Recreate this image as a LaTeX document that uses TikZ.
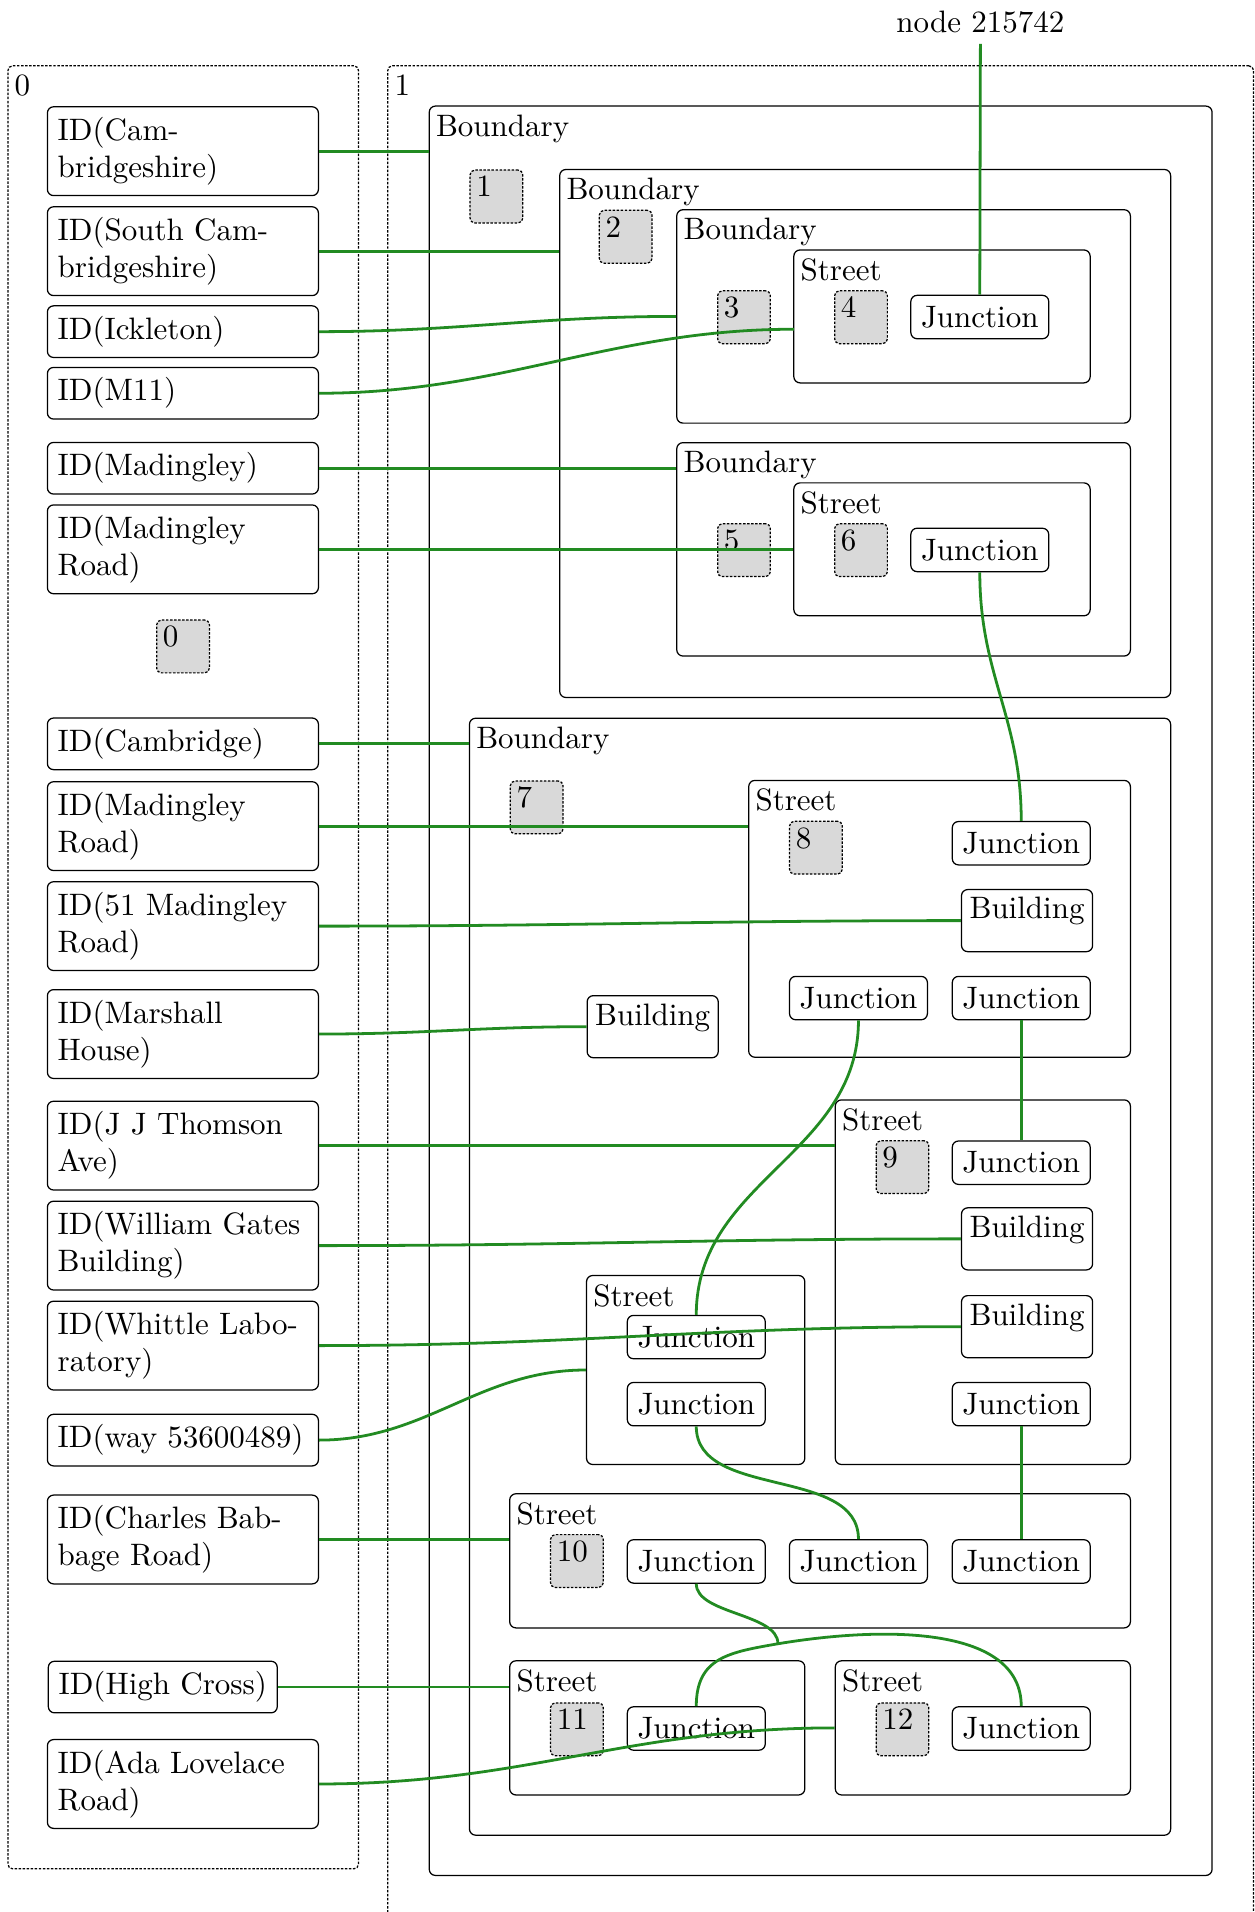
\documentclass[tikz,border=0pt]{standalone}
\usetikzlibrary{fit}
\definecolor{edgegreen}{RGB}{34,139,34}
\tikzset{
  fdash/.style={dash pattern=on 0.8pt off 0.5pt},
  frame/.style={draw, fdash, rounded corners=1.5pt, inner sep=0pt},
  cont/.style={draw, rounded corners=2pt, inner sep=0pt},
  lbl/.style={inner xsep=2.2pt, inner ysep=2.8pt, anchor=north west},
  idbox/.style={draw, rounded corners=2pt, inner sep=3.33pt, text width=80.8pt, align=left},
  idnat/.style={draw, rounded corners=2pt, inner sep=3.33pt},
  junc/.style={draw, rounded corners=2pt, minimum width=44.5pt, minimum height=14pt, inner sep=2pt},
  bldg/.style={draw, rounded corners=2pt, anchor=north west, inner xsep=2.6pt, inner ysep=2.55pt, text height=6.94pt, text depth=8pt, minimum width=41.7pt},
  numbox/.style={draw, fdash, fill=gray!30, rounded corners=1.5pt, anchor=north west, inner xsep=2pt, inner ysep=2.2pt, text width=13pt, align=left, text height=6.44pt, text depth=6.2pt},
  link/.style={draw=edgegreen, line width=0.9pt}
}
\begin{document}
\begin{tikzpicture}[x=0.3935pt,y=-0.3935pt]
\useasboundingbox (0,0) rectangle (1029,1568);
\begin{scope}
\clip (0,0) rectangle (1029,1568);
% frames
\node[frame, fit={(6.5,54)(294,1532.6)}] (f0) {};
\node[lbl] (f0l) at (f0.north west) {0};
\node[frame, fit={(318,54)(1028,1600)}] (f1) {};
\node[lbl] (f1l) at (f1.north west) {1};
\end{scope}

% containers
\node[cont, fit={(352,87)(994,1538)}] (A) {};
\node[lbl] (Al) at (A.north west) {Boundary};
\node[cont, fit={(459,139)(960,572)}] (B) {};
\node[lbl] (Bl) at (B.north west) {Boundary};
\node[cont, fit={(555,172)(927,347)}] (C) {};
\node[lbl] (Cl) at (C.north west) {Boundary};
\node[cont, fit={(651,205)(894,314)}] (D) {};
\node[lbl] (Dl) at (D.north west) {Street};
\node[cont, fit={(555,363)(927,538)}] (E) {};
\node[lbl] (El) at (E.north west) {Boundary};
\node[cont, fit={(651,396)(894,505)}] (F) {};
\node[lbl] (Fl) at (F.north west) {Street};
\node[cont, fit={(385,589)(960,1505)}] (G) {};
\node[lbl] (Gl) at (G.north west) {Boundary};
\node[cont, fit={(614,640)(927,867)}] (H) {};
\node[lbl] (Hl) at (H.north west) {Street};
\node[cont, fit={(685,902)(927,1201)}] (I) {};
\node[lbl] (Il) at (I.north west) {Street};
\node[cont, fit={(481,1046)(660,1201)}] (K) {};
\node[lbl] (Kl) at (K.north west) {Street};
\node[cont, fit={(418,1225)(927,1335)}] (L) {};
\node[lbl] (Ll) at (L.north west) {Street};
\node[cont, fit={(418,1362)(660,1472)}] (M) {};
\node[lbl] (Ml) at (M.north west) {Street};
\node[cont, fit={(685,1362)(927,1472)}] (N) {};
\node[lbl] (Nl) at (N.north west) {Street};

% numbered boxes
\node[numbox] (n0) at (128,508) {0};
\node[numbox] (n1) at (385,139) {1};
\node[numbox] (n2) at (491,172) {2};
\node[numbox] (n3) at (588,238) {3};
\node[numbox] (n4) at (684,238) {4};
\node[numbox] (n5) at (588,429) {5};
\node[numbox] (n6) at (684,429) {6};
\node[numbox] (n7) at (418,640) {7};
\node[numbox] (n8) at (647,673) {8};
\node[numbox] (n9) at (718,935) {9};
\node[numbox] (n10) at (451,1258) {10};
\node[numbox] (n11) at (451,1396) {11};
\node[numbox] (n12) at (718,1396) {12};

% junctions
\node[junc] (J1) at (803.5,260) {Junction};
\node[junc] (J2) at (803.5,451) {Junction};
\node[junc] (J3) at (837.5,691.5) {Junction};
\node[junc] (J4) at (704,818.5) {Junction};
\node[junc] (J5) at (837.5,818.5) {Junction};
\node[junc] (J6) at (837.5,953.5) {Junction};
\node[junc] (J7) at (837.5,1151.5) {Junction};
\node[junc] (J8) at (571,1096.5) {Junction};
\node[junc] (J9) at (571,1151.5) {Junction};
\node[junc] (J10) at (571,1280.5) {Junction};
\node[junc] (J11) at (704,1280.5) {Junction};
\node[junc] (J12) at (837.5,1280.5) {Junction};
\node[junc] (J13) at (571,1417.5) {Junction};
\node[junc] (J14) at (837.5,1417.5) {Junction};

% buildings
\node[bldg] (B1) at (788,729) {Building};
\node[bldg] (B2) at (481,816) {Building};
\node[bldg] (B3) at (788,990) {Building};
\node[bldg] (B4) at (788,1062) {Building};

% ID boxes
\node[idbox] (id1) at (150,124) {ID(Cam-\\bridgeshire)};
\node[idbox] (id2) at (150,206) {ID(South Cam-\\bridgeshire)};
\node[idbox] (id3) at (150,272) {ID(Ickleton)};
\node[idbox] (id4) at (150,322.5) {ID(M11)};
\node[idbox] (id5) at (150,384) {ID(Madingley)};
\node[idbox] (id6) at (150,450.5) {ID(Madingley\\Road)};
\node[idbox] (id7) at (150,610) {ID(Cambridge)};
\node[idbox] (id8) at (150,677.5) {ID(Madingley\\Road)};
\node[idbox] (id9) at (150,759.5) {ID(51 Madingley\\Road)};
\node[idbox] (id10) at (150,848) {ID(Marshall\\House)};
\node[idbox] (id11) at (150,939.5) {ID(J J Thomson\\Ave)};
\node[idbox] (id12) at (150,1021.5) {ID(William Gates\\Building)};
\node[idbox] (id13) at (150,1103.5) {ID(Whittle Labo-\\ratory)};
\node[idbox] (id14) at (150,1181) {ID(way 53600489)};
\node[idbox] (id15) at (150,1262.5) {ID(Charles Bab-\\bage Road)};
\node[idnat] (id16) at (133.5,1383.5) {ID(High Cross)};
\node[idbox] (id17) at (150,1463) {ID(Ada Lovelace\\Road)};

% title
\node (title) at (804,18) {node 215742};

% named free ends
\coordinate (cD) at (651,270);
\coordinate (X) at (638,1348);

% edges
\path[link] (title.south) -- (J1.north);
\path[link] (id1.east) -- (A.west |- id1.east);
\path[link] (id2.east) -- (B.west |- id2.east);
\path[link] (id3.east) .. controls +(115,0) and +(-115,0) .. (C.west);
\path[link] (id4.east) .. controls +(150,0) and +(-150,0) .. (cD);
\path[link] (id5.east) -- (E.west |- id5.east);
\path[link] (id6.east) -- (F.west |- id6.east);
\path[link] (J2.south) .. controls +(0,85) and +(0,-85) .. (J3.north);
\path[link] (id7.east) -- (G.west |- id7.east);
\path[link] (id8.east) -- (H.west |- id8.east);
\path[link] (id9.east) .. controls +(210,0) and +(-210,0) .. (B1.west);
\path[link] (id10.east) .. controls +(88,0) and +(-88,0) .. (B2.west);
\path[link] (J4.south) .. controls +(0,110) and +(0,-110) .. (J8.north);
\path[link] (J5.south) -- (J6.north);
\path[link] (id11.east) -- (I.west |- id11.east);
\path[link] (id12.east) .. controls +(210,0) and +(-210,0) .. (B3.west);
\path[link] (id13.east) .. controls +(210,0) and +(-210,0) .. (B4.west);
\path[link] (id14.east) .. controls +(88,0) and +(-88,0) .. (K.west);
\path[link] (J9.south) .. controls +(0,60) and +(0,-60) .. (J11.north);
\path[link] (J7.south) -- (J12.north);
\path[link] (id15.east) -- (L.west |- id15.east);
\path[link] (J10.south) .. controls +(0,25) and +(0,-25) .. (X);
\path[link] (J13.north) .. controls +(0,-40) and +(-40,7) .. (X) .. controls +(90,-15) and +(0,-65) .. (J14.north);
\path[link] (id16.east) -- (M.west |- id16.east);
\path[link] (id17.east) .. controls +(170,0) and +(-170,0) .. (N.west);
\end{tikzpicture}
\end{document}
